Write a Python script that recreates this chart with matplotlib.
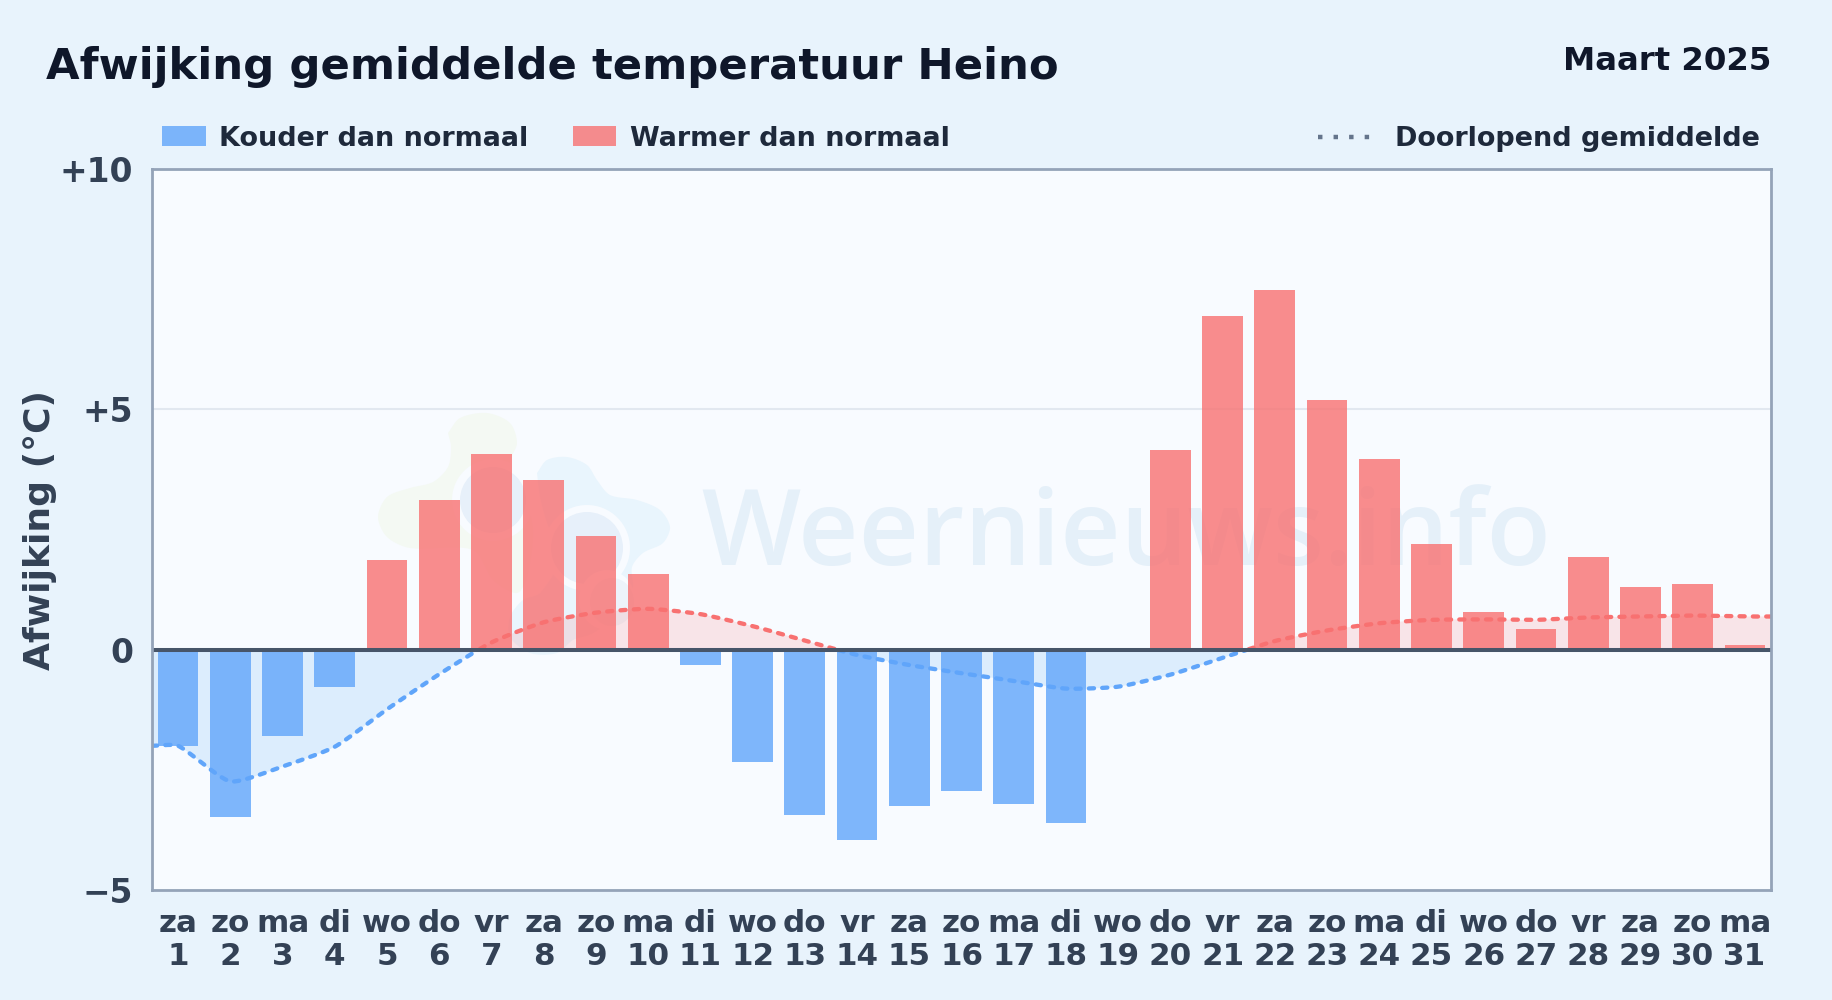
import numpy as np
from matplotlib import pyplot as plt
from matplotlib.patches import Ellipse, Polygon, Rectangle
from matplotlib.lines import Line2D
from matplotlib.transforms import Affine2D

# gegevens
weekdays = ['za', 'zo', 'ma', 'di', 'wo', 'do', 'vr', 'za', 'zo', 'ma', 'di', 'wo', 'do', 'vr', 'za', 'zo',
            'ma', 'di', 'wo', 'do', 'vr', 'za', 'zo', 'ma', 'di', 'wo', 'do', 'vr', 'za', 'zo', 'ma']
days = list(range(1, 32))
deviation = [-2.0, -3.48, -1.8, -0.78, 1.87, 3.11, 4.08, 3.53, 2.36, 1.58, -0.32, -2.33, -3.43, -3.96, -3.26, -2.94,
             -3.21, -3.6, 0.0, 4.16, 6.95, 7.49, 5.2, 3.96, 2.19, 0.78, 0.44, 1.92, 1.31, 1.36, 0.1]
running_mean = [-2.0, -2.74, -2.43, -2.02, -1.24, -0.51, 0.15, 0.57, 0.77, 0.85, 0.74, 0.49, 0.19, -0.11, -0.32, -0.49,
                -0.65, -0.81, -0.77, -0.52, -0.17, 0.18, 0.4, 0.55, 0.62, 0.63, 0.62, 0.67, 0.69, 0.71, 0.69]
y_ticks = [-5, 0, 5, 10]
y_labels = ['\u22125', '0', '+5', '+10']

BG = '#e8f3fc'
PLOT_BG = '#f8fbff'
BLUE = '#60a5fa'
RED = '#f87171'
DARK = '#0f172a'
TEXT = '#1e293b'
TICK = '#334155'
W, H = 1832, 1000


def smooth(x, y, tension=0.2, per=24):
    # bezier spline through the points, control points from the neighbours
    x = np.asarray(x, float)
    y = np.asarray(y, float)
    n = len(x)
    before = np.zeros((n, 2))
    after = np.zeros((n, 2))
    pts = np.column_stack([x, y])
    for i in range(n):
        prev = pts[max(i - 1, 0)]
        nxt = pts[min(i + 1, n - 1)]
        d01 = np.hypot(*(pts[i] - prev))
        d12 = np.hypot(*(nxt - pts[i]))
        total = d01 + d12
        before[i] = pts[i] - tension * d01 / total * (nxt - prev)
        after[i] = pts[i] + tension * d12 / total * (nxt - prev)
    out = []
    t = np.linspace(0, 1, per, endpoint=False)[:, None]
    for i in range(n - 1):
        out.append((1 - t)**3 * pts[i] + 3 * (1 - t)**2 * t * after[i]
                   + 3 * (1 - t) * t**2 * before[i + 1] + t**3 * pts[i + 1])
    out = np.vstack(out + [pts[-1:]])
    return out[:, 0], out[:, 1]


fig = plt.figure(figsize=(W / 100, H / 100), dpi=100, facecolor=BG)
plt.rcParams['font.family'] = 'DejaVu Sans'
ax = fig.add_axes([152 / W, 1 - 890 / H, (1771 - 152) / W, (890 - 169) / H], facecolor=PLOT_BG)
ax.set_xlim(0.5, 31.5)
ax.set_ylim(-5, 10)

ax.axhline(5, color='#e2e8f0', lw=1.5, zorder=1.5)

# watermark: logo blobs and name, placed in image pixels
px = Affine2D().scale(1, -1).translate(0, H)
green_x = [448, 460, 487, 510, 517, 510, 523, 533, 527, 517, 493, 473, 410, 387, 378, 387, 410, 433, 448, 451, 448]
green_y = [433, 418, 413, 423, 443, 463, 490, 530, 577, 593, 580, 550, 548, 537, 517, 497, 488, 482, 467, 447, 433]
blue_x = [537, 547, 567, 587, 597, 610, 637, 660, 670, 663, 643, 632, 633, 627, 593, 573, 557, 530, 510, 510, 523,
          540, 560, 547, 540, 537]
blue_y = [473, 460, 457, 465, 480, 495, 500, 510, 527, 543, 553, 567, 587, 607, 633, 640, 653, 653, 637, 617, 600,
          593, 557, 523, 497, 473]
for bx, by, col in [(green_x, green_y, '#f4f9f3'), (blue_x, blue_y, '#e9f5fd')]:
    sx, sy = smooth(bx, by, tension=0.3)
    ax.add_patch(Polygon(np.column_stack([sx, sy]), closed=True, color=col, lw=0, transform=px, zorder=1))
rings = [
    (493, 500, 41, 41, PLOT_BG), (493, 500, 33, 33, '#e7f0fa'),
    (587, 548, 43, 43, PLOT_BG), (587, 548, 36, 36, '#e7f0fa'),
    (607, 600, 28, 30, PLOT_BG), (612, 602, 22, 24, '#edf3fa'),
]
for cx, cy, rx, ry, col in rings:
    ax.add_patch(Ellipse((cx, cy), 2 * rx, 2 * ry, color=col, lw=0, transform=px, zorder=1))
ax.text(701, 565, 'Weernieuws.info', transform=px, family='Open Sans', fontweight='semibold', fontsize=75.5,
        color='#0b72b4', alpha=0.08, ha='left', va='baseline', zorder=1.2)

# bars
xs = np.array(days)
vals = np.array(deviation)
ax.bar(xs[vals < 0], vals[vals < 0], width=0.78, color=BLUE, alpha=0.8, lw=0, zorder=3)
ax.bar(xs[vals >= 0], vals[vals >= 0], width=0.78, color=RED, alpha=0.8, lw=0, zorder=3)

# running mean with the band down to zero
lx, ly = smooth([0.5] + days + [31.5], [running_mean[0]] + running_mean + [running_mean[-1]])
ax.fill_between(lx, ly, 0, where=ly <= 0, color='#4ea8f7', alpha=0.16, lw=0, interpolate=True, zorder=2)
ax.fill_between(lx, ly, 0, where=ly >= 0, color=RED, alpha=0.16, lw=0, interpolate=True, zorder=2)
ax.plot(lx, np.ma.masked_where(ly > 0, ly), color=BLUE, lw=3.1, ls=(0, (1.2, 1.9)), dash_capstyle='round', zorder=4)
ax.plot(lx, np.ma.masked_where(ly < 0, ly), color=RED, lw=3.1, ls=(0, (1.2, 1.9)), dash_capstyle='round', zorder=4)

ax.axhline(0, color='#475569', lw=2.9, zorder=5)

for side in ax.spines.values():
    side.set_color('#94a3b8')
    side.set_linewidth(2)
    side.set_zorder(6)

ax.set_yticks(y_ticks)
ax.set_yticklabels(y_labels, fontsize=23.7, fontweight='bold', color=TICK)
ax.set_xticks(days)
ax.set_xticklabels([f'{w}\n{d}' for w, d in zip(weekdays, days)], fontsize=22.3, fontweight='bold', color=TICK,
                   linespacing=1.15)
ax.tick_params(length=0, axis='both')
ax.tick_params(axis='y', pad=13.5)
ax.tick_params(axis='x', pad=14)
fig.text(40 / W, 1 - 530 / H, 'Afwijking (\u00b0C)', rotation=90, ha='center', va='center', fontsize=26,
         fontweight='bold', color=TICK)

# header
fig.text(46 / W, 1 - 67.5 / H, 'Afwijking gemiddelde temperatuur Heino', ha='left', va='center', fontsize=31.25,
         fontweight='bold', color=DARK)
fig.text(1771 / W, 1 - 62 / H, 'Maart 2025', ha='right', va='center', fontsize=23.35, fontweight='bold', color=DARK)

# legend
fig.add_artist(Rectangle((162 / W, 1 - 146 / H), 44 / W, 20 / H, color=BLUE, alpha=0.8, lw=0, transform=fig.transFigure))
fig.text(219 / W, 1 - 139 / H, 'Kouder dan normaal', va='center', fontsize=19.47, fontweight='bold', color=TEXT)
fig.add_artist(Rectangle((573 / W, 1 - 146 / H), 43 / W, 20 / H, color=RED, alpha=0.8, lw=0, transform=fig.transFigure))
fig.text(630 / W, 1 - 139 / H, 'Warmer dan normaal', va='center', fontsize=19.47, fontweight='bold', color=TEXT)
fig.add_artist(Line2D([1318 / W, 1378 / W], [1 - 137 / H, 1 - 137 / H], color='#64748b', lw=3.2, ls=(0, (1, 2.5)),
                      transform=fig.transFigure))
fig.text(1395 / W, 1 - 139 / H, 'Doorlopend gemiddelde', va='center', fontsize=19.47, fontweight='bold', color=TEXT)

fig.savefig('out.png', facecolor=fig.get_facecolor())
